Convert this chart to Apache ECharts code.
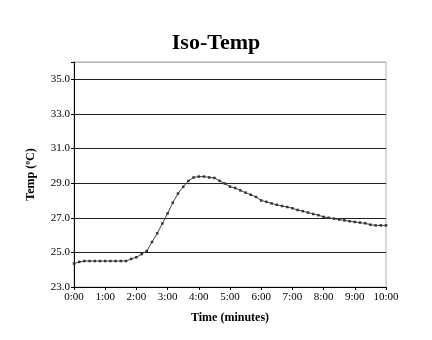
<!DOCTYPE html>
<html>
<head>
<meta charset="utf-8">
<script src="https://cdn.jsdelivr.net/npm/echarts@6/dist/echarts.min.js"></script>
<style>
  html, body { margin: 0; padding: 0; background: #fff; }
  #chart { width: 432px; height: 340px; }
</style>
</head>
<body>
<div id="chart"></div>
<script>
// Sample times, one reading every 10 seconds
const times = [
  '0:00','0:10','0:20','0:30','0:40','0:50',
  '1:00','1:10','1:20','1:30','1:40','1:50',
  '2:00','2:10','2:20','2:30','2:40','2:50',
  '3:00','3:10','3:20','3:30','3:40','3:50',
  '4:00','4:10','4:20','4:30','4:40','4:50',
  '5:00','5:10','5:20','5:30','5:40','5:50',
  '6:00','6:10','6:20','6:30','6:40','6:50',
  '7:00','7:10','7:20','7:30','7:40','7:50',
  '8:00','8:10','8:20','8:30','8:40','8:50',
  '9:00','9:10','9:20','9:30','9:40','9:50',
  '10:00'
];

// Temperature readings (°C)
const temps = [
  24.35, 24.45, 24.50, 24.50, 24.50, 24.50,
  24.50, 24.50, 24.50, 24.50, 24.50, 24.62,
  24.72, 24.90, 25.08, 25.60, 26.10, 26.67,
  27.25, 27.87, 28.40, 28.79, 29.13, 29.33,
  29.38, 29.38, 29.33, 29.30, 29.13, 28.98,
  28.80, 28.72, 28.58, 28.45, 28.33, 28.20,
  28.00, 27.92, 27.83, 27.75, 27.68, 27.62,
  27.55, 27.45, 27.38, 27.30, 27.22, 27.15,
  27.05, 27.00, 26.95, 26.90, 26.85, 26.80,
  26.76, 26.72, 26.68, 26.60, 26.56, 26.56,
  26.56
];

const serif = '"Liberation Serif", "DejaVu Serif", serif';

const chart = echarts.init(document.getElementById('chart'), null, { renderer: 'canvas' });
chart.setOption({
  animation: false,
  backgroundColor: '#fff',
  title: {
    text: 'Iso-Temp',
    left: 'center',
    top: 27,
    textStyle: { fontFamily: serif, fontWeight: 'bold', fontSize: 22, color: '#000' }
  },
  grid: {
    left: 74, right: 46, top: 62, bottom: 53,
    show: true, borderColor: '#b0b0b0', borderWidth: 1, backgroundColor: 'transparent'
  },
  xAxis: {
    type: 'category',
    data: times,
    boundaryGap: false,
    name: 'Time (minutes)',
    nameLocation: 'middle',
    nameGap: 25,
    nameTextStyle: { fontFamily: serif, fontWeight: 'bold', fontSize: 12, color: '#000' },
    axisLine: { lineStyle: { color: '#000', width: 1 } },
    axisTick: { interval: 5, length: 3, lineStyle: { color: '#000' } },
    axisLabel: { interval: 5, fontFamily: serif, fontSize: 11, color: '#000', margin: 5 },
    splitLine: { show: false }
  },
  yAxis: {
    type: 'value',
    min: 23,
    max: 36,
    interval: 2,
    name: 'Temp (ºC)',
    nameLocation: 'middle',
    nameGap: 37,
    nameRotate: 90,
    nameTextStyle: { fontFamily: serif, fontWeight: 'bold', fontSize: 12, color: '#000' },
    axisLine: { show: true, lineStyle: { color: '#000', width: 1 } },
    axisTick: { show: true, length: 3, lineStyle: { color: '#000' } },
    axisLabel: {
      fontFamily: serif, fontSize: 11, color: '#000', margin: 4,
      formatter: v => (v > 35 ? '' : v.toFixed(1))
    },
    splitLine: {
      show: true,
      lineStyle: {
        color: ['#222', '#222', '#222', '#222', '#222', '#222', '#222', '#b0b0b0'],
        width: 1
      }
    }
  },
  series: [{
    type: 'line',
    data: temps,
    smooth: false,
    symbol: 'rect',
    symbolSize: 2.5,
    showSymbol: true,
    itemStyle: { color: '#333' },
    lineStyle: { color: '#444', width: 1 }
  }]
});
</script>
</body>
</html>
